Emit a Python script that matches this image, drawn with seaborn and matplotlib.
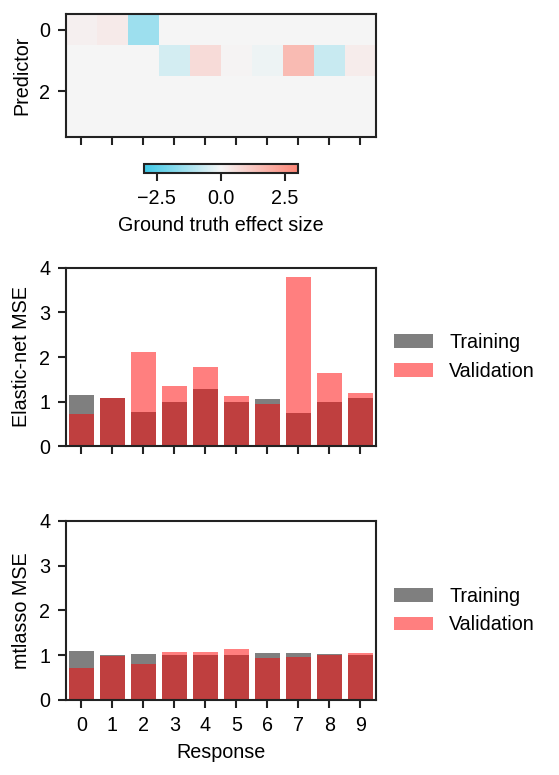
import numpy as np
import pandas as pd
import matplotlib
matplotlib.use("Agg")
import matplotlib.pyplot as plt
from matplotlib.colors import LinearSegmentedColormap
import seaborn as sns

# ground truth effect sizes, rows = predictors, cols = responses
effect_row0 = [0.15, 0.3, -1.45, 0, 0, 0, 0, 0, 0, 0]
effect_row1 = [0, 0, 0, -0.55, 0.7, 0.05, -0.12, 1.55, -0.75, 0.25]
effect_row2 = [0] * 10
effect_row3 = [0] * 10

responses = list(range(10))

enet_train = [1.15, 1.08, 0.77, 0.99, 1.29, 0.99, 1.06, 0.75, 0.99, 1.09]
enet_valid = [0.72, 1.07, 2.11, 1.35, 1.78, 1.13, 0.95, 3.79, 1.64, 1.19]

mtl_train = [1.09, 1.00, 1.03, 1.00, 1.00, 1.00, 1.05, 1.05, 1.03, 1.00]
mtl_valid = [0.71, 0.98, 0.80, 1.07, 1.07, 1.14, 0.94, 0.97, 1.01, 1.05]

sns.set_style("ticks")
plt.rcParams["font.family"] = ["Liberation Sans", "DejaVu Sans"]
plt.rcParams["font.size"] = 9.5
plt.rcParams["axes.linewidth"] = 1.0
plt.rcParams["xtick.major.width"] = 1.0
plt.rcParams["ytick.major.width"] = 1.0
plt.rcParams["axes.edgecolor"] = "#222222"
plt.rcParams["text.color"] = "black"
plt.rcParams["axes.labelcolor"] = "black"
plt.rcParams["xtick.color"] = "#222222"
plt.rcParams["ytick.color"] = "#222222"
plt.rcParams["xtick.labelcolor"] = "black"
plt.rcParams["ytick.labelcolor"] = "black"


def make_heatmap(fig):
    effects = pd.DataFrame([effect_row0, effect_row1, effect_row2, effect_row3])
    cmap = LinearSegmentedColormap.from_list("gt", ["#3ec8e6", "#f5f5f5", "#fd8676"])
    ax = fig.add_axes([0.118, 0.823, 0.5546, 0.1587])
    cax = fig.add_axes([0.2576, 0.7768, 0.2755, 0.0116])
    sns.heatmap(effects, ax=ax, cmap=cmap, vmin=-3, vmax=3,
                cbar_ax=cax, cbar_kws={"orientation": "horizontal"},
                xticklabels=False, yticklabels=False)
    for s in ax.spines.values():
        s.set_visible(True)
    ax.set_xticks(np.arange(10) + 0.5)
    ax.set_xticklabels([])
    ax.set_yticks([0.5, 2.5])
    ax.set_yticklabels(["0", "2"], rotation=0)
    ax.tick_params(length=4)
    ax.set_ylabel("Predictor")
    cax.set_xticks([-2.5, 0, 2.5])
    cax.tick_params(length=4)
    cax.set_xlabel("Ground truth effect size")
    cb = ax.collections[0].colorbar
    cb.outline.set_visible(True)
    cb.outline.set_edgecolor("#222222")
    cb.outline.set_linewidth(1.0)


def make_bars(fig, rect, train, valid, ylabel, show_xlabels):
    ax = fig.add_axes(rect)
    sns.barplot(x=responses, y=train, color="black", alpha=0.5, ax=ax,
                label="Training", width=0.78, saturation=1, linewidth=0)
    sns.barplot(x=responses, y=valid, color="red", alpha=0.5, ax=ax,
                label="Validation", width=0.78, saturation=1, linewidth=0)
    ax.set_ylim(0, 4)
    ax.set_yticks([0, 1, 2, 3, 4])
    ax.set_xlim(-0.5, 9.5)
    ax.set_ylabel(ylabel)
    ax.tick_params(length=4)
    if show_xlabels:
        ax.set_xlabel("Response")
    else:
        ax.set_xticklabels([])
        ax.set_xlabel("")
    ax.legend(loc="center left", bbox_to_anchor=(1.0, 0.5), frameon=False)
    return ax


def main():
    fig = plt.figure(figsize=(559 / 150, 775 / 150), dpi=150)
    make_heatmap(fig)
    make_bars(fig, [0.118, 0.4245, 0.5546, 0.2297], enet_train, enet_valid,
              "Elastic-net MSE", False)
    make_bars(fig, [0.118, 0.0968, 0.5546, 0.231], mtl_train, mtl_valid,
              "mtlasso MSE", True)
    fig.savefig("out.png", dpi=150)


if __name__ == "__main__":
    main()
